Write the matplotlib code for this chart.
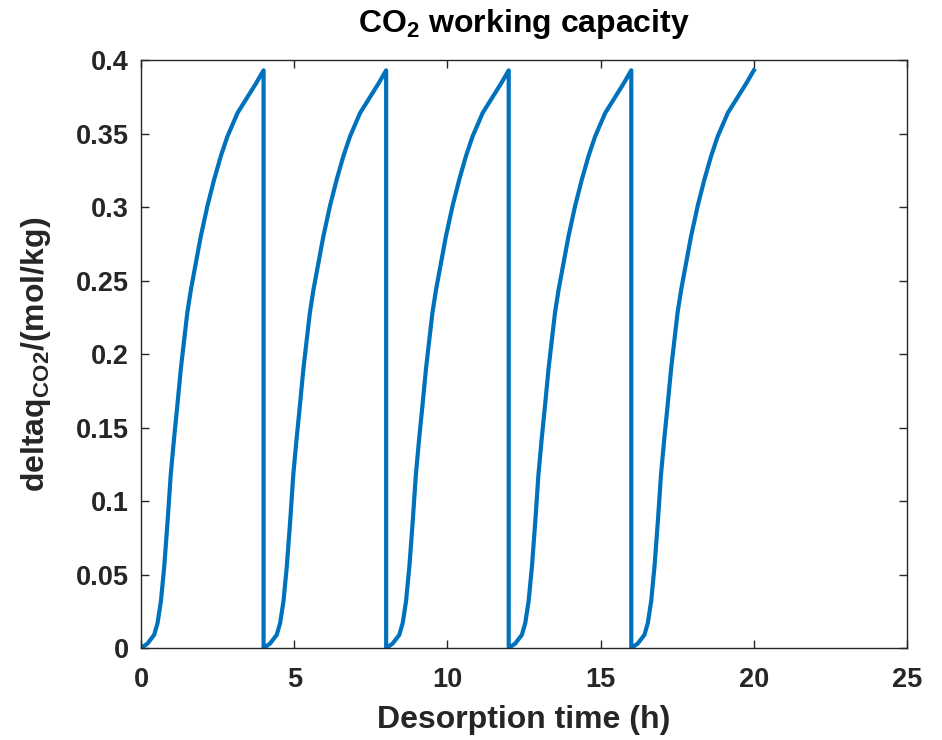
import numpy as np
from matplotlib import pyplot as plt

# one desorption cycle (hours since cycle start, mol/kg)
t_cycle = [0.0, 0.21, 0.43, 0.54, 0.65, 0.76, 0.87, 0.97, 1.08, 1.19, 1.30,
           1.41, 1.51, 1.63, 1.79, 1.95, 2.17, 2.39, 2.61, 2.82, 3.15, 3.48,
           3.75, 4.0]
q_cycle = [0.0, 0.003, 0.009, 0.017, 0.032, 0.056, 0.087, 0.118, 0.143, 0.166,
           0.190, 0.210, 0.228, 0.244, 0.262, 0.280, 0.301, 0.319, 0.335, 0.348,
           0.364, 0.375, 0.384, 0.393]
cycle_starts = [0, 4, 8, 12, 16]

xticks = [0, 5, 10, 15, 20, 25]
yticks = [0, 0.05, 0.1, 0.15, 0.2, 0.25, 0.3, 0.35, 0.4]
ytick_labels = ['0', '0.05', '0.1', '0.15', '0.2', '0.25', '0.3', '0.35', '0.4']

t = []
q = []
for s in cycle_starts:
	t += [s + v for v in t_cycle]
	q += q_cycle

plt.rcParams['font.family'] = ['Liberation Sans', 'DejaVu Sans']
plt.rcParams['font.weight'] = 'bold'
plt.rcParams['mathtext.fontset'] = 'custom'
plt.rcParams['mathtext.rm'] = 'Liberation Sans:bold'
plt.rcParams['mathtext.bf'] = 'Liberation Sans:bold'
plt.rcParams['mathtext.it'] = 'Liberation Sans:bold'

dark = '#262626'
fig = plt.figure(figsize=(9.42, 7.4), dpi=100)
ax = fig.add_axes([0.1497, 0.1243, 0.8132, 0.7946])
ax.plot(t, q, color='#0072BD', lw=3.0, solid_joinstyle='round')

ax.set_xlim(0, 25)
ax.set_ylim(0, 0.4)
ax.set_xticks(xticks)
ax.set_yticks(yticks)
ax.set_yticklabels(ytick_labels)
ax.tick_params(direction='in', length=6, width=1.0, colors=dark,
               labelsize=19.5, top=True, right=True)
ax.tick_params(axis='x', pad=14)
ax.tick_params(axis='y', pad=9)
for lab in ax.get_xticklabels() + ax.get_yticklabels():
	lab.set_fontweight('bold')
for sp in ax.spines.values():
	sp.set_color(dark)
	sp.set_linewidth(1.0)

ax.set_xlabel('Desorption time (h)', fontsize=23, fontweight='bold', color=dark, labelpad=8)
ax.set_ylabel(r'deltaq$_{\mathrm{CO2}}$/(mol/kg)', fontsize=23, fontweight='bold',
              color=dark, labelpad=16)
ax.set_title(r'CO$_{\mathrm{2}}$ working capacity', fontsize=23, fontweight='bold',
             color='black', pad=20)

fig.savefig('out.png', dpi=100)
